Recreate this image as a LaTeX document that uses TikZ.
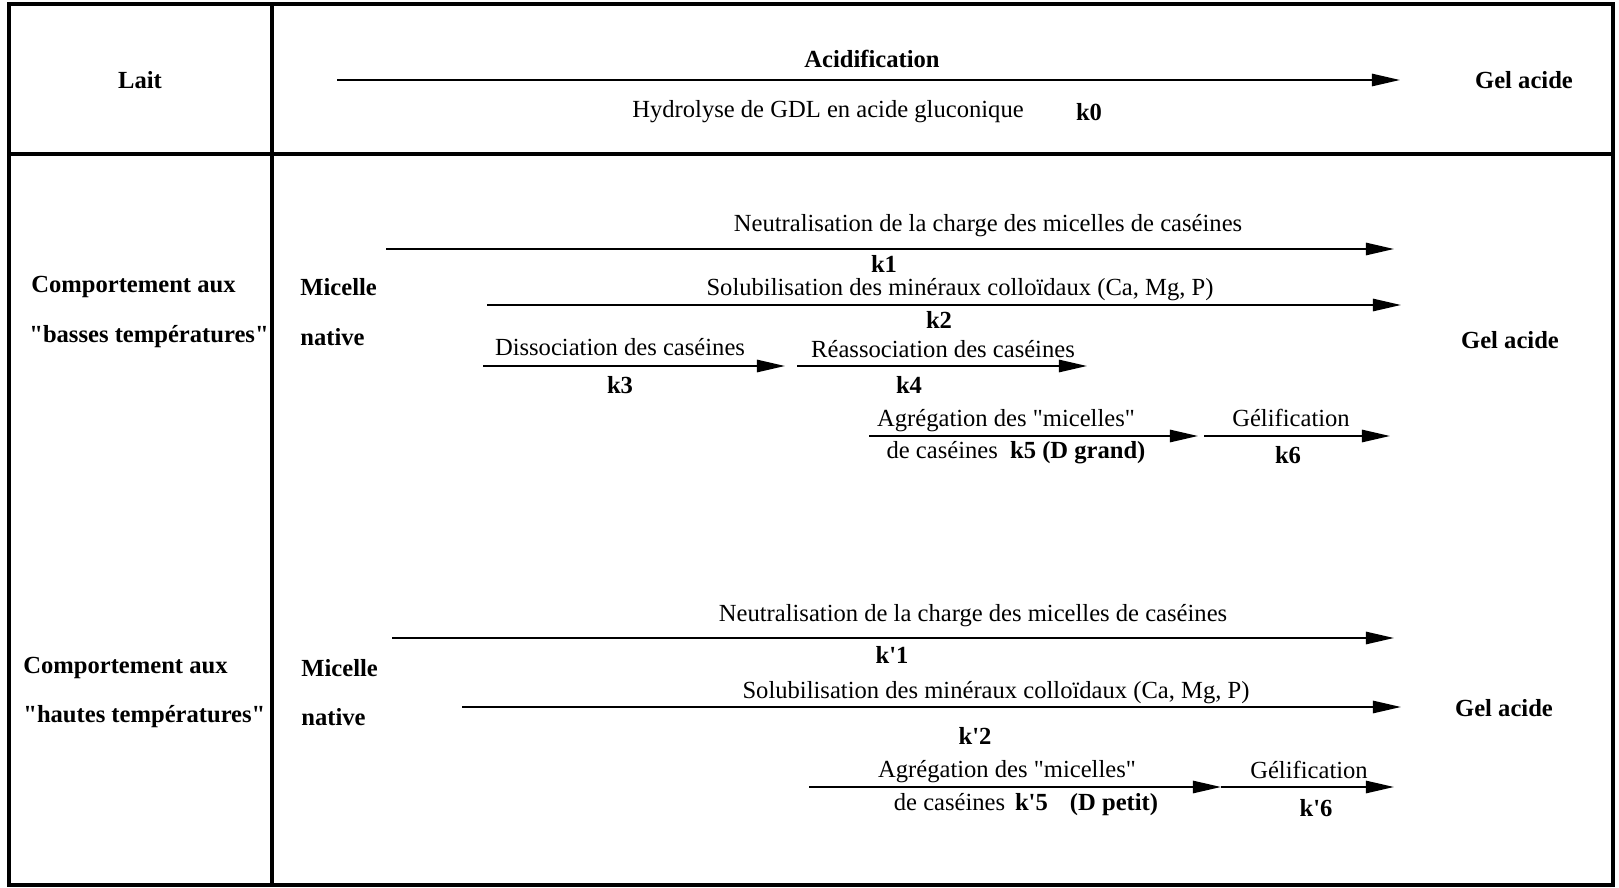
\documentclass[tikz,border=0pt]{standalone}
\usepackage{fontspec}
\setmainfont{Liberation Serif}
\usetikzlibrary{arrows.meta}
\newcommand{\dq}{\textquotedbl}
\tikzset{
    frame/.style={line width=2pt},
    react/.style={line width=1.1pt, -{Triangle[length=16pt, width=7pt]}},
    txt/.style={inner sep=0pt, font=\fontsize{14}{16}\selectfont},
    hd/.style={inner sep=0pt, font=\fontsize{14}{16}\selectfont\bfseries},
    }

\begin{document}
\begin{tikzpicture}[x=0.02cm, y=-0.02cm]
    \useasboundingbox (0,0) rectangle (1619,888);

    % table frame
    \draw[frame] (9,4) rectangle (1613,885);
    \draw[frame] (272,4) -- (272,885);
    \draw[frame] (9,154) -- (1613,154);

    % acidification
    \node[hd] (lait) at (140,80) {Lait};
    \node[hd] (gel0) at (1524,80) {Gel acide};
    \coordinate (a0s) at (337,80);
    \coordinate (a0e) at (1400,80);
    \draw[react] (a0s) -- (a0e);
    \node[hd] (acid) at (872,59) {Acidification};
    \node[txt] (hydro) at (828,112) {Hydrolyse de GDL en acide gluconique};
    \node[hd] (k0) at (1089,112) {k0};

    % low temperatures
    \node[hd, anchor=west] (cb) at (31,287) {Comportement aux};
    \node[hd, anchor=west] (tb) at (29,337) {\dq basses températures\dq};
    \node[hd, anchor=west] (mb) at (300,287) {Micelle};
    \node[hd, anchor=west] (nb) at (300,337) {native};
    \node[hd] (gelb) at (1510,340) {Gel acide};

    \coordinate (b1s) at (386,249);  \coordinate (b1e) at (1394,249);
    \coordinate (b2s) at (487,305);  \coordinate (b2e) at (1401,305);
    \coordinate (b3s) at (483,366);  \coordinate (b3e) at (785,366);
    \coordinate (b4s) at (797,366);  \coordinate (b4e) at (1087,366);
    \coordinate (b5s) at (869,436);  \coordinate (b5e) at (1198,436);
    \coordinate (b6s) at (1204,436); \coordinate (b6e) at (1390,436);
    \foreach \i in {1,...,6}
        \draw[react] (b\i s) -- (b\i e);

    \node[txt] (nb1) at (988,226) {Neutralisation de la charge des micelles de caséines};
    \node[hd] (k1) at (884,264) {k1};
    \node[txt] (sb2) at (960,290) {Solubilisation des minéraux colloïdaux (Ca, Mg, P)};
    \node[hd] (k2) at (939,320) {k2};
    \node[txt] (db3) at (620,347) {Dissociation des caséines};
    \node[hd] (k3) at (620,385) {k3};
    \node[txt] (rb4) at (943,349) {Réassociation des caséines};
    \node[hd] (k4) at (909,385) {k4};
    \node[txt] (ab5) at (1006,421) {Agrégation des \dq micelles\dq};
    \node[txt] (cb5) at (1016,453) {de caséines\ \ \textbf{k5 (D grand)}};
    \node[txt] (gb6) at (1291,418) {Gélification};
    \node[hd] (k6) at (1288,455) {k6};

    % high temperatures
    \node[hd, anchor=west] (ch) at (23,668) {Comportement aux};
    \node[hd, anchor=west] (th) at (23,717) {\dq hautes températures\dq};
    \node[hd, anchor=west] (mh) at (301,668) {Micelle};
    \node[hd, anchor=west] (nh) at (301,717) {native};
    \node[hd] (gelh) at (1504,708) {Gel acide};

    \coordinate (h1s) at (392,638);  \coordinate (h1e) at (1394,638);
    \coordinate (h2s) at (462,707);  \coordinate (h2e) at (1401,707);
    \coordinate (h5s) at (809,787);  \coordinate (h5e) at (1221,787);
    \coordinate (h6s) at (1221,787); \coordinate (h6e) at (1394,787);
    \foreach \i in {1,2,5,6}
        \draw[react] (h\i s) -- (h\i e);

    \node[txt] (nh1) at (973,616) {Neutralisation de la charge des micelles de caséines};
    \node[hd] (kp1) at (892,655) {k\textquotesingle 1};
    \node[txt] (sh2) at (996,693) {Solubilisation des minéraux colloïdaux (Ca, Mg, P)};
    \node[hd] (kp2) at (975,736) {k\textquotesingle 2};
    \node[txt] (ah5) at (1007,772) {Agrégation des \dq micelles\dq};
    \node[txt] (ch5) at (1026,805) {de caséines\hspace{0.4em}\textbf{k\textquotesingle 5}\hspace{0.9em}\textbf{(D petit)}};
    \node[txt] (gh6) at (1309,770) {Gélification};
    \node[hd] (kp6) at (1316,808) {k\textquotesingle 6};

\end{tikzpicture}
\end{document}
